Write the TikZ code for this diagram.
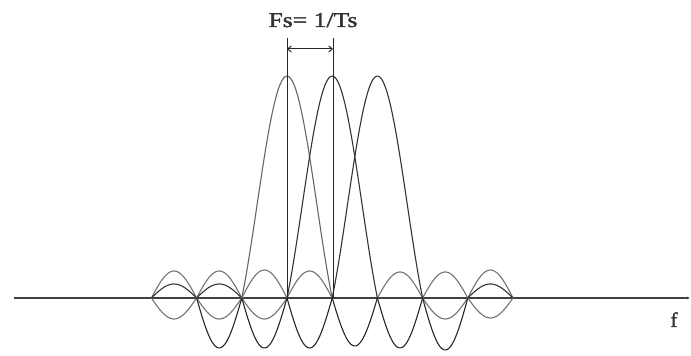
\documentclass[tikz,border=0pt]{standalone}
\usepackage{fontspec}
\setmainfont{Liberation Serif}
\newfontfamily\lblfont[FakeBold=1.5]{Liberation Serif}
\usetikzlibrary{arrows.meta}
\newcommand\sidehump[4]{%
  \draw[#4] plot[domain=#1:#2, samples=30, smooth] (\x, {58 + (#3)*sin(180*(\x-#1)/(#2-#1))});}
\newcommand\mainlobe[2]{%
  \draw[#2] plot[domain={#1-45.2}:{#1+45.2}, samples=60, smooth]
    (\x, {58 + 222*sin(180*(\x-#1)/45.2)/(pi*(\x-#1)/45.2)});}
\begin{document}
\begin{tikzpicture}[x=1pt,y=1pt,
  axisline/.style={line width=1.5pt, draw=black!75},
  lobeline/.style={line width=1.1pt, draw=black!80},
  lobegray/.style={line width=1.1pt, draw=black!60},
  sideA/.style={line width=1.1pt, draw=black!55},
  sideB/.style={line width=1.1pt, draw=black!80},
  sideC/.style={line width=1.1pt, draw=black!55},
  sideD/.style={line width=1.1pt, draw=black!85},
  marker/.style={line width=1pt, draw=black!85},
  dimarrow/.style={line width=1pt, draw=black!85, {Straight Barb[length=3.5pt,width=6pt]}-{Straight Barb[length=3.5pt,width=6pt]}},
  lbl/.style={text=black!80, inner sep=0pt}
]
\useasboundingbox (0,0) rectangle (691,356);
% axis
\coordinate (axL) at (14,58);
\coordinate (axR) at (690,58);
\draw[axisline, -{Latex[length=3pt,width=3pt]}] (axL) -- (axR);
% side lobes (zeros at 151.4 + 45.2 k)
% interval 1
\sidehump{151.4}{196.6}{27}{sideA}
\sidehump{151.4}{196.6}{14}{sideB}
\sidehump{151.4}{196.6}{-21}{sideC}
% interval 2
\sidehump{196.6}{241.8}{27}{sideA}
\sidehump{196.6}{241.8}{14}{sideB}
\sidehump{196.6}{241.8}{-21}{sideC}
\sidehump{196.6}{241.8}{-50}{sideD}
% interval 3
\sidehump{241.8}{287}{28}{sideA}
\sidehump{241.8}{287}{-21}{sideC}
\sidehump{241.8}{287}{-50}{sideD}
% interval 4
\sidehump{287}{332.2}{27}{sideA}
\sidehump{287}{332.2}{-50}{sideD}
% interval 5
\sidehump{332.2}{377.4}{-48}{sideD}
% interval 6
\sidehump{377.4}{422.6}{26}{sideA}
\sidehump{377.4}{422.6}{-50}{sideD}
% interval 7
\sidehump{422.6}{467.8}{26}{sideA}
\sidehump{422.6}{467.8}{-21}{sideC}
\sidehump{422.6}{467.8}{-52}{sideD}
% interval 8
\sidehump{467.8}{513}{28}{sideA}
\sidehump{467.8}{513}{14}{sideB}
\sidehump{467.8}{513}{-20}{sideC}
% main lobes
\mainlobe{287}{lobegray}
\mainlobe{332.2}{lobeline}
\mainlobe{377.4}{lobeline}
% marker lines
\coordinate (m1top) at (287,318);
\coordinate (m1bot) at (287,58);
\coordinate (m2top) at (333,318);
\coordinate (m2bot) at (333,58);
\draw[marker] (m1top) -- (m1bot);
\draw[marker] (m2top) -- (m2bot);
\coordinate (a1) at (287,307);
\coordinate (a2) at (333,307);
\draw[dimarrow] (a1) -- (a2);
% labels
\node[lbl, anchor=base, font=\lblfont\fontsize{21}{24}\selectfont, xscale=1.22] (fs) at (313,329) {Fs= 1/Ts};
\node[lbl, anchor=base, font=\lblfont\fontsize{21}{24}\selectfont] (flab) at (674,29) {f};
\end{tikzpicture}
\end{document}
